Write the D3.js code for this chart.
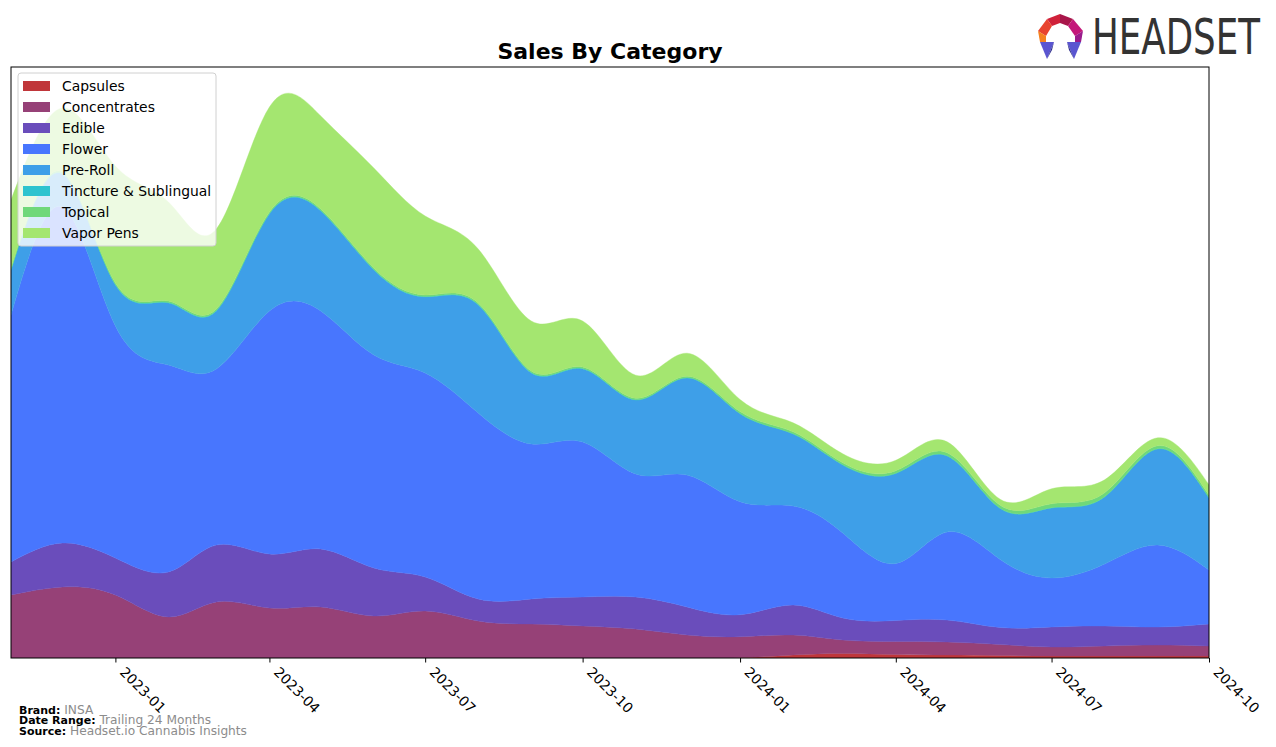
<!DOCTYPE html>
<html lang="en">
<head>
    <meta charset="UTF-8">
    <title>Sales By Category</title>
    <script src="https://d3js.org/d3.v7.min.js"></script>
</head>

<style>
    html, body {
        margin: 0;
        padding: 0;
        background: #fff;
    }

    svg text {
        font-family: "DejaVu Sans", sans-serif;
    }
</style>
<body>
<svg id="chart" width="1276" height="747"></svg>

<script>
    // data, monthly
    var months = ['2022-11', '2022-12', '2023-01', '2023-02', '2023-03', '2023-04', '2023-05', '2023-06',
        '2023-07', '2023-08', '2023-09', '2023-10', '2023-11', '2023-12', '2024-01', '2024-02',
        '2024-03', '2024-04', '2024-05', '2024-06', '2024-07', '2024-08', '2024-09', '2024-10']

    var categories = ['Capsules', 'Concentrates', 'Edible', 'Flower', 'Pre-Roll',
        'Tincture & Sublingual', 'Topical', 'Vapor Pens']

    var capsules = [0, 0, 0, 0, 0, 0, 0, 0, 0, 0, 0, 0, 0, 0, 0.3, 3, 4.5, 3.5, 3, 2.5, 2, 2, 2, 2]
    var concentrates = [63, 71, 63, 41, 56, 50, 51, 42, 47, 37, 34, 32, 29, 23, 21, 20, 13.5, 13, 13, 11, 9, 10, 11, 10]
    var edible = [33, 44, 37, 45, 57, 54, 58, 48, 34, 22, 25, 29, 32, 28, 22, 30, 22, 21, 22, 17, 20, 20, 18, 22]
    var flower = [247, 336, 232, 207, 176, 243, 238, 213, 204, 186, 155, 155, 123, 132, 113, 99, 85, 57, 88, 68, 49, 62, 82, 54]
    var preRoll = [45, 33, 41, 62, 58, 97, 100, 85, 76, 108, 71, 73, 74, 97, 88, 72, 68, 90, 76, 51, 70, 67, 96, 72]
    var tincture = [0.5, 0.5, 0.5, 0.5, 0.5, 0.5, 0.5, 0.5, 0.5, 0.5, 0.5, 0.5, 0.3, 0.3, 0.2, 0.2, 0.2, 0.2, 0.2, 0.2, 0.2, 0.2, 0.2, 0.2]
    var topical = [1.5, 1.5, 1.5, 1.5, 1.5, 1.5, 1.5, 1.5, 1.5, 1.5, 1.5, 1.5, 1.5, 1.5, 2, 2, 2, 2.5, 3, 3, 4, 4, 3, 2.5]
    var vaporPens = [68, 64, 117, 99, 80, 105, 93, 100, 79, 54, 50, 46, 23, 23, 12, 9, 9, 10.5, 11, 6, 15, 13, 8, 10.5]

    var colors = ['#c0363a', '#964177', '#6a4dbb', '#4876fe', '#3e9fe8', '#2dc3cf', '#6fd87a', '#a4e670']

    // top of the value axis (auto limit + 5% headroom in the original)
    var yMax = 591

    // brand info for the footer
    var brand = 'INSA'
    var dateRange = 'Trailing 24 Months'
    var source = 'Headset.io Cannabis Insights'

    //
    // layout
    //
    var margin = {left: 11, right: 1209, top: 67, bottom: 658}
    var svg = d3.select('#chart')
    var parse = d3.timeParse('%Y-%m')

    var series = [capsules, concentrates, edible, flower, preRoll, tincture, topical, vaporPens]
    var rows = months.map(function (m, i) {
        var row = {date: parse(m)}
        categories.forEach(function (c, j) {
            row[c] = series[j][i]
        })
        return row
    })

    var x = d3.scaleTime()
        .domain(d3.extent(rows, function (d) { return d.date }))
        .range([margin.left, margin.right])
    var y = d3.scaleLinear()
        .domain([0, yMax])
        .range([margin.bottom, margin.top])

    var stack = d3.stack().keys(categories)
    var layers = stack(rows)

    var area = d3.area()
        .curve(d3.curveNatural)
        .x(function (d) { return x(d.data.date) })
        .y0(function (d) { return y(d[0]) })
        .y1(function (d) { return y(d[1]) })

    svg.append('clipPath').attr('id', 'plotclip')
        .append('rect')
        .attr('x', margin.left).attr('y', margin.top)
        .attr('width', margin.right - margin.left)
        .attr('height', margin.bottom - margin.top)

    svg.append('g').attr('clip-path', 'url(#plotclip)')
        .selectAll('path')
        .data(layers)
        .enter().append('path')
        .attr('d', area)
        .attr('fill', function (d, i) { return colors[i] })
        .attr('stroke', function (d, i) { return colors[i] })
        .attr('stroke-width', 0.4)

    // frame
    svg.append('rect')
        .attr('x', margin.left).attr('y', margin.top)
        .attr('width', margin.right - margin.left)
        .attr('height', margin.bottom - margin.top)
        .attr('fill', 'none').attr('stroke', '#000').attr('stroke-width', 1)

    // x axis, quarterly ticks
    var xAxis = d3.axisBottom(x)
        .ticks(d3.timeMonth.every(3))
        .tickFormat(d3.timeFormat('%Y-%m'))
        .tickSize(4.5)
    var gx = svg.append('g')
        .attr('transform', 'translate(0,' + margin.bottom + ')')
        .call(xAxis)
    gx.select('.domain').remove()
    gx.selectAll('line').attr('stroke', '#000')
    gx.selectAll('text')
        .attr('font-size', 13.9)
        .attr('fill', '#000')
        .attr('text-anchor', 'start')
        .attr('dy', null)
        .attr('y', 0)
        .attr('transform', 'translate(3,15) rotate(45)')

    // title
    svg.append('text')
        .attr('x', (margin.left + margin.right) / 2)
        .attr('y', 59)
        .attr('text-anchor', 'middle')
        .attr('font-size', 22)
        .attr('font-weight', 'bold')
        .text('Sales By Category')

    // legend
    var legend = svg.append('g').attr('transform', 'translate(18,73)')
    legend.append('rect')
        .attr('width', 198).attr('height', 173)
        .attr('rx', 3)
        .attr('fill', '#fff').attr('fill-opacity', 0.8)
        .attr('stroke', '#d0d0d0')
    var item = legend.selectAll('.item')
        .data(categories)
        .enter().append('g')
        .attr('transform', function (d, i) { return 'translate(0,' + (13 + i * 21) + ')' })
    item.append('rect')
        .attr('x', 5).attr('y', -5)
        .attr('width', 27).attr('height', 10)
        .attr('fill', function (d, i) { return colors[i] })
    item.append('text')
        .attr('x', 44).attr('y', 5)
        .attr('font-size', 13.9)
        .text(function (d) { return d })

    // footer
    var footer = [['Brand:', brand], ['Date Range:', dateRange], ['Source:', source]]
    var foot = svg.append('g')
    footer.forEach(function (f, i) {
        var t = foot.append('text')
            .attr('x', 19).attr('y', 714 + i * 10.3)
        t.append('tspan').attr('font-size', 11).attr('font-weight', 'bold').text(f[0])
        t.append('tspan').attr('font-size', 12.2).attr('fill', '#8c8c8c').text(' ' + f[1])
    })

    // headset logo
    var logo = svg.append('g').attr('transform', 'translate(1038,14)')
    logo.append('polygon').attr('points', '9,5 22,0 22,9 14,12').attr('fill', '#d0213a')
    logo.append('polygon').attr('points', '22,0 35,5 30,12 22,9').attr('fill', '#a8164a')
    logo.append('polygon').attr('points', '35,5 45,17 37,22 30,12').attr('fill', '#c4177a')
    logo.append('polygon').attr('points', '9,5 14,12 8,22 0,17').attr('fill', '#e8442f')
    logo.append('polygon').attr('points', '0,17 8,22 8,29 2,28').attr('fill', '#f58220')
    logo.append('polygon').attr('points', '45,17 43,28 37,29 37,22').attr('fill', '#9a1b8c')
    logo.append('polygon').attr('points', '2,28 16,28 9,45').attr('fill', '#5a55d0')
    logo.append('polygon').attr('points', '9,45 16,28 14,36').attr('fill', '#2c2b8a')
    logo.append('polygon').attr('points', '29,28 43,28 36,45').attr('fill', '#5a55d0')
    logo.append('polygon').attr('points', '36,45 29,28 31,36').attr('fill', '#2c2b8a')
    svg.append('text')
        .attr('x', 1092).attr('y', 54)
        .attr('font-family', '"DejaVu Sans Condensed", "DejaVu Sans", sans-serif')
        .attr('font-size', 50)
        .attr('fill', '#333')
        .attr('textLength', 168)
        .attr('lengthAdjust', 'spacingAndGlyphs')
        .text('HEADSET')
</script>
</body>
</html>
